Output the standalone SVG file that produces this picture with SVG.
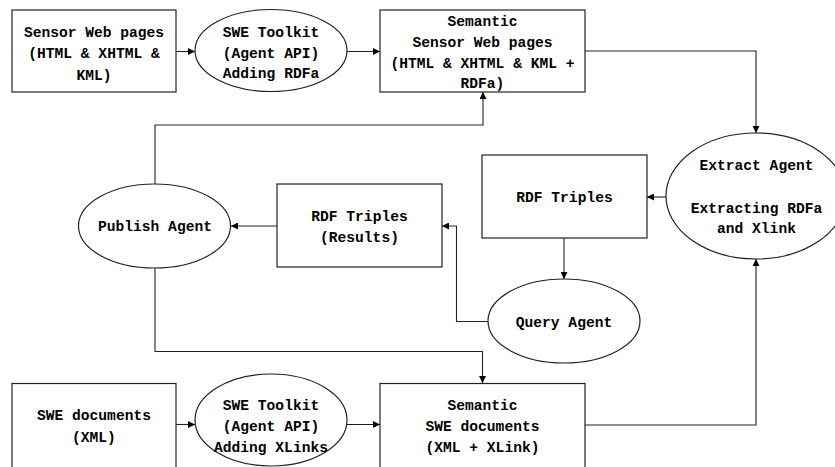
<svg xmlns="http://www.w3.org/2000/svg" width="835" height="467" viewBox="0 0 835 467">
<defs>
<marker id="arr" viewBox="0 0 10 10" refX="10" refY="5" markerWidth="8" markerHeight="7" markerUnits="userSpaceOnUse" orient="auto">
<path d="M0,0 L10,5 L0,10 z" fill="#000"/>
</marker>
</defs>
<style>
.shape{fill:#fff;stroke:#222;stroke-width:1.2}
.lbl{font-family:"Liberation Mono",monospace;font-size:14.6px;font-weight:bold;fill:#000;text-anchor:middle}
.conn{fill:none;stroke:#222;stroke-width:1.1;marker-end:url(#arr)}
</style>
<rect width="835" height="467" fill="#fff"/>
<g id="connectors">
<path class="conn" d="M176,51.5 H195"/>
<path class="conn" d="M347,51.5 H380"/>
<path class="conn" d="M585,51 H756 V133"/>
<path class="conn" d="M667,197 H647"/>
<path class="conn" d="M564,238 V279"/>
<path class="conn" d="M488,321.5 H456.5 V226 H442"/>
<path class="conn" d="M277,226 H231"/>
<path class="conn" d="M155,184 V125 H483 V92"/>
<path class="conn" d="M155,268 V351.5 H482.5 V383"/>
<path class="conn" d="M176,424.5 H195"/>
<path class="conn" d="M347,424.5 H380"/>
<path class="conn" d="M585,425 H756 V259"/>
</g>
<g id="sensor-web-pages">
<rect class="shape" x="12" y="10" width="164" height="82"/>
<text class="lbl" x="94" y="36.5">Sensor Web pages</text>
<text class="lbl" x="94" y="58">(HTML &amp; XHTML &amp;</text>
<text class="lbl" x="94" y="79.5">KML)</text>
</g>
<g id="swe-toolkit-rdfa">
<ellipse class="shape" cx="271" cy="50.5" rx="76" ry="41"/>
<text class="lbl" x="271" y="36.5">SWE Toolkit</text>
<text class="lbl" x="271" y="57.5">(Agent API)</text>
<text class="lbl" x="271" y="78">Adding RDFa</text>
</g>
<g id="semantic-sensor-web-pages">
<rect class="shape" x="380" y="10" width="205" height="82"/>
<text class="lbl" x="482.5" y="25.5">Semantic</text>
<text class="lbl" x="482.5" y="46.5">Sensor Web pages</text>
<text class="lbl" x="482.5" y="68">(HTML &amp; XHTML &amp; KML +</text>
<text class="lbl" x="482.5" y="88">RDFa)</text>
</g>
<g id="extract-agent">
<ellipse class="shape" cx="756" cy="196" rx="90" ry="63"/>
<text class="lbl" x="756.5" y="170">Extract Agent</text>
<text class="lbl" x="756.5" y="213">Extracting RDFa</text>
<text class="lbl" x="756.5" y="233">and Xlink</text>
</g>
<g id="rdf-triples">
<rect class="shape" x="482" y="155" width="165" height="83"/>
<text class="lbl" x="564.5" y="202">RDF Triples</text>
</g>
<g id="query-agent">
<ellipse class="shape" cx="564" cy="321" rx="76" ry="42"/>
<text class="lbl" x="564" y="326.5">Query Agent</text>
</g>
<g id="rdf-triples-results">
<rect class="shape" x="277" y="184" width="165" height="83"/>
<text class="lbl" x="359.5" y="221">RDF Triples</text>
<text class="lbl" x="359.5" y="241.5">(Results)</text>
</g>
<g id="publish-agent">
<ellipse class="shape" cx="154.5" cy="226" rx="76" ry="42"/>
<text class="lbl" x="155" y="231">Publish Agent</text>
</g>
<g id="swe-documents">
<rect class="shape" x="12" y="383.5" width="164" height="86"/>
<text class="lbl" x="94" y="420">SWE documents</text>
<text class="lbl" x="94" y="441.5">(XML)</text>
</g>
<g id="swe-toolkit-xlinks">
<ellipse class="shape" cx="271" cy="420" rx="76" ry="46"/>
<text class="lbl" x="271" y="410">SWE Toolkit</text>
<text class="lbl" x="271" y="431">(Agent API)</text>
<text class="lbl" x="271" y="452">Adding XLinks</text>
</g>
<g id="semantic-swe-documents">
<rect class="shape" x="380" y="383.5" width="205" height="86"/>
<text class="lbl" x="482.5" y="410">Semantic</text>
<text class="lbl" x="482.5" y="431">SWE documents</text>
<text class="lbl" x="482.5" y="451.5">(XML + XLink)</text>
</g>
</svg>
